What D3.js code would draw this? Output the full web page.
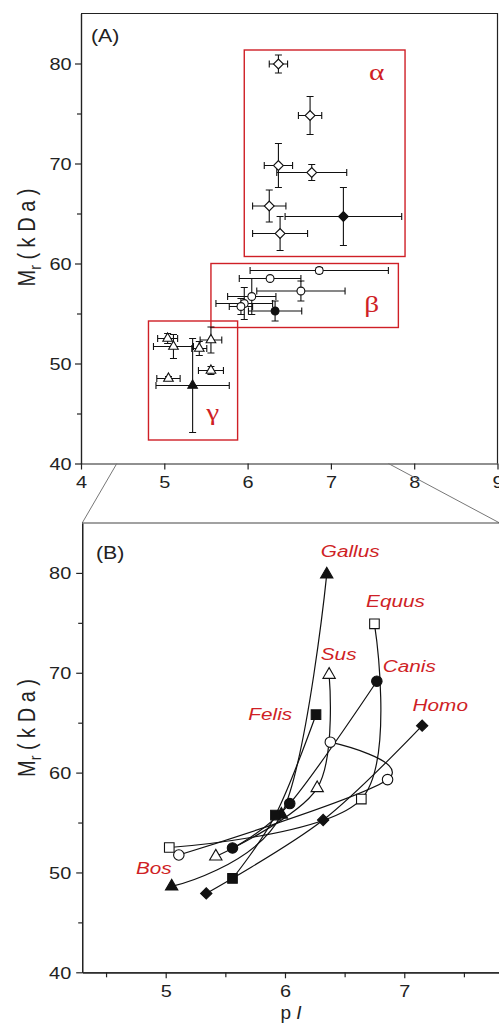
<!DOCTYPE html>
<html>
<head>
<meta charset="utf-8">
<script src="https://cdn.jsdelivr.net/npm/d3@7"></script>
<style>
  body { margin: 0; background: #fff; }
  svg { display: block; font-family: "Liberation Sans", Arial, sans-serif; }
</style>
</head>
<body>
<div id="svg-area"></div>
<script>
var svgWidth = 499;
var svgHeight = 1023;
var SX = 1.22;          // the text in the figure is stretched sideways
var red = "#cf1f26";

// ---- panel A : spots with error bars (pI, Mr in kDa) ----
var alphaPI    = [6.37, 6.75, 6.37, 6.77, 6.26, 7.15, 6.39];
var alphaMr    = [79.95, 74.8, 69.8, 69.1, 65.75, 64.7, 63.0];
var alphaPIerr = [0.11, 0.14, 0.17, 0.42, 0.20, 0.70, 0.33];
var alphaMrErr = [0.9, 1.9, 2.2, 0.8, 1.6, 2.9, 1.7];
var alphaMean  = [false, false, false, false, false, true, false];

var betaPI    = [6.86, 6.27, 6.64, 6.05, 5.96, 5.92, 6.33];
var betaMr    = [59.3, 58.5, 57.25, 56.7, 56.0, 55.7, 55.25];
var betaPIerr = [0.83, 0.37, 0.53, 0.29, 0.34, 0.14, 0.32];
var betaMrErr = [0.3, 0, 1.0, 1.8, 1.6, 0.8, 1.0];
var betaMean  = [false, false, false, false, false, false, true];

var gammaPI    = [5.04, 5.11, 5.42, 5.56, 5.56, 5.05, 5.34];
var gammaMr    = [52.5, 51.7, 51.5, 52.35, 49.3, 48.5, 47.8];
var gammaPIerr = [0.12, 0.24, 0.09, 0.13, 0.15, 0.14, 0.44];
var gammaMrErr = [0.5, 1.2, 0.7, 1.3, 0.4, 0.2, 4.7];
var gammaMean  = [false, false, false, false, false, false, true];

// boxes around the three groups: [pI from, pI to, Mr from, Mr to]
var groupNames = ["\u03b1", "\u03b2", "\u03b3"];
var groupBoxes = [[5.96, 7.89, 60.7, 81.35], [5.56, 7.81, 53.6, 60.0], [4.81, 5.88, 42.35, 54.25]];
var groupLabelAt = [[7.55, 78.4], [7.49, 55.2], [5.58, 44.4]];

// ---- panel B : one curve per genus, points ordered gamma, beta, alpha ----
var genera      = ["Gallus", "Equus", "Sus", "Canis", "Felis", "Homo", "Bos"];
var generaPI    = [[5.05, 5.97, 6.35], [5.03, 6.64, 6.75], [5.42, 6.27, 6.37], [5.56, 6.04, 6.77],
                   [5.56, 5.92, 6.26], [5.34, 6.32, 7.15], [5.11, 6.86, 6.38]];
var generaMr    = [[48.6, 55.8, 79.85], [52.5, 57.35, 74.9], [51.6, 58.45, 69.8], [52.45, 56.9, 69.15],
                   [49.4, 55.75, 65.8], [47.9, 55.25, 64.7], [51.75, 59.3, 63.05]];
var generaShape = ["triangle", "square", "triangle", "circle", "square", "diamond", "circle"];
var generaFill  = [true, false, false, true, true, true, false];
var labelPI     = [6.30, 6.68, 6.30, 6.82, 6.06, 7.07, 4.75];
var labelMr     = [81.55, 76.54, 71.25, 70.12, 65.24, 66.14, 49.83];
var labelAnchor = ["start", "start", "start", "start", "end", "start", "start"];

var zoomWindow = [4.43, 7.69];   // part of panel A shown in panel B

var svg = d3.select("#svg-area")
  .append("svg")
  .attr("width", svgWidth)
  .attr("height", svgHeight);

// scales
var xA = d3.scaleLinear().domain([4, 9]).range([81, 497.5]);
var yA = d3.scaleLinear().domain([40, 85]).range([463.5, 13.5]);
var xB = d3.scaleLinear().domain([4.3, 7.8]).range([82.2, 499.7]);
var yB = d3.scaleLinear().domain([40, 85]).range([972.3, 523]);

function stretched(g, x, y, str) {
  return g.append("text")
    .attr("transform", "translate(" + x + "," + y + ") scale(" + SX + ",1)")
    .text(str);
}

function symbolPath(shape, size) {
  var type = shape == "circle" ? d3.symbolCircle
    : shape == "triangle" ? d3.symbolTriangle : d3.symbolSquare;
  return d3.symbol().type(type).size(size)();
}

// axes, drawn the same way for both panels
function drawAxes(x, y, xMajor, xMinor, yGap, yLabelMid) {
  var y0 = y.range()[0], x0 = x.range()[0];

  svg.append("g").attr("transform", "translate(" + x0 + ",0)")
    .call(d3.axisLeft(y).tickValues([45, 55, 65, 75]).tickSize(4).tickFormat("").tickSizeOuter(0));
  var yMajor = svg.append("g").attr("transform", "translate(" + x0 + ",0)")
    .call(d3.axisLeft(y).tickValues([40, 50, 60, 70, 80]).tickSize(6).tickSizeOuter(0));
  yMajor.selectAll("text")
    .attr("x", -yGap / SX).attr("dy", "0.36em")
    .attr("transform", "scale(" + SX + ",1)");

  var xm = svg.append("g").attr("transform", "translate(0," + y0 + ")")
    .call(d3.axisBottom(x).tickValues(xMajor).tickSize(6).tickFormat(d3.format("d")).tickSizeOuter(0));
  xm.selectAll("text").attr("y", 12.7).attr("dy", "0.72em")
    .attr("transform", "scale(" + SX + ",1)");
  if (xMinor.length) {
    svg.append("g").attr("transform", "translate(0," + y0 + ")")
      .call(d3.axisBottom(x).tickValues(xMinor).tickSize(5).tickFormat("").tickSizeOuter(0));
  }

  svg.selectAll(".tick text").attr("font-size", 16.3).attr("fill", "#222");
  svg.selectAll(".domain, .tick line").attr("stroke", "#222").attr("stroke-width", 1.2);

  // y title: M_r ( k D a )
  var t = svg.append("text")
    .attr("transform", "translate(35," + yLabelMid + ") scale(" + SX + ",1) rotate(-90)")
    .attr("text-anchor", "middle")
    .attr("font-size", 20)
    .attr("fill", "#222");
  t.append("tspan").text("M");
  t.append("tspan").attr("dy", 5).attr("font-size", 14).text("r");
  t.append("tspan").attr("dy", -5).text(" ( k D a )");
}

// ---------------- panel A ----------------
drawAxes(xA, yA, [4, 5, 6, 7, 8, 9], [], 9.5, 237.5);

svg.append("path")
  .attr("fill", "none").attr("stroke", "#222").attr("stroke-width", 1.2)
  .attr("d", "M" + xA(4) + "," + yA(85) + "H" + xA(9) + "V" + yA(40));

stretched(svg, 91, 42, "(A)").attr("font-size", 17.5).attr("fill", "#222");

// group boxes
groupBoxes.forEach(function(b, i) {
  svg.append("rect")
    .attr("x", xA(b[0])).attr("y", yA(b[3]))
    .attr("width", xA(b[1]) - xA(b[0])).attr("height", yA(b[2]) - yA(b[3]))
    .attr("fill", "none").attr("stroke", red).attr("stroke-width", 1.4);
  stretched(svg, xA(groupLabelAt[i][0]), yA(groupLabelAt[i][1]), groupNames[i])
    .attr("text-anchor", "middle")
    .attr("font-family", "'Liberation Serif', 'DejaVu Serif', serif")
    .attr("font-size", 24).attr("fill", red);
});

function drawSpots(pI, mr, pIerr, mrErr, mean, shape, size) {
  var bars = svg.append("g").attr("stroke", "#111").attr("stroke-width", 1.1).attr("fill", "none");
  pI.forEach(function(v, i) {
    var cx = xA(v), cy = yA(mr[i]);
    var xl = xA(v - pIerr[i]), xr = xA(v + pIerr[i]);
    var yt = yA(mr[i] + mrErr[i]), yb = yA(mr[i] - mrErr[i]);
    var path = "M" + xl + "," + cy + "H" + xr +
      "M" + xl + "," + (cy - 3.5) + "V" + (cy + 3.5) +
      "M" + xr + "," + (cy - 3.5) + "V" + (cy + 3.5);
    if (mrErr[i] > 0) {
      path += "M" + cx + "," + yt + "V" + yb +
        "M" + (cx - 3.5) + "," + yt + "H" + (cx + 3.5) +
        "M" + (cx - 3.5) + "," + yb + "H" + (cx + 3.5);
    }
    bars.append("path").attr("d", path);
  });
  svg.append("g").selectAll("path")
    .data(pI)
    .enter().append("path")
    .attr("d", symbolPath(shape == "diamond" ? "square" : shape, size))
    .attr("transform", function(d, i) {
      return "translate(" + xA(d) + "," + yA(mr[i]) + ")" + (shape == "diamond" ? " rotate(45)" : "");
    })
    .attr("fill", function(d, i) { return mean[i] ? "#111" : "#fff"; })
    .attr("stroke", "#111").attr("stroke-width", 1.1);
}

drawSpots(alphaPI, alphaMr, alphaPIerr, alphaMrErr, alphaMean, "diamond", 48);
drawSpots(betaPI, betaMr, betaPIerr, betaMrErr, betaMean, "circle", 48);
drawSpots(gammaPI, gammaMr, gammaPIerr, gammaMrErr, gammaMean, "triangle", 40);

// lines leading from panel A to panel B
svg.append("g").attr("stroke", "#777").attr("stroke-width", 1)
  .selectAll("line")
  .data(zoomWindow)
  .enter().append("line")
  .attr("x1", function(d) { return xA(d); })
  .attr("y1", yA(40))
  .attr("x2", function(d, i) { return xB.range()[i]; })
  .attr("y2", yB(85));

// ---------------- panel B ----------------
drawAxes(xB, yB, [5, 6, 7], [4.5, 5.5, 6.5, 7.5], 11, 728);

svg.append("line")
  .attr("x1", xB(4.3)).attr("x2", xB(7.8))
  .attr("y1", yB(85)).attr("y2", yB(85))
  .attr("stroke", "#444").attr("stroke-width", 1.2);

stretched(svg, 96, 559, "(B)").attr("font-size", 17.5).attr("fill", "#222");

var curve = d3.line()
  .x(function(d) { return xB(d[0]); })
  .y(function(d) { return yB(d[1]); })
  .curve(d3.curveCatmullRom.alpha(0));

genera.forEach(function(name, i) {
  var pts = generaPI[i].map(function(v, j) { return [v, generaMr[i][j]]; });
  svg.append("path")
    .attr("fill", "none").attr("stroke", "#111").attr("stroke-width", 1.2)
    .attr("d", curve(pts));
});

genera.forEach(function(name, i) {
  var shape = generaShape[i];
  var size = shape == "triangle" ? 66 : shape == "diamond" ? 64 : shape == "circle" ? 86 : 92;
  svg.append("g").selectAll("path")
    .data(generaPI[i])
    .enter().append("path")
    .attr("d", symbolPath(shape == "diamond" ? "square" : shape, size))
    .attr("transform", function(d, j) {
      return "translate(" + xB(d) + "," + yB(generaMr[i][j]) + ")" + (shape == "diamond" ? " rotate(45)" : "");
    })
    .attr("fill", generaFill[i] ? "#111" : "#fff")
    .attr("stroke", "#111").attr("stroke-width", 1.1);
});

genera.forEach(function(name, i) {
  stretched(svg, xB(labelPI[i]), yB(labelMr[i]), name)
    .attr("text-anchor", labelAnchor[i])
    .attr("font-style", "italic")
    .attr("font-size", 17)
    .attr("fill", red);
});

// x title: pI
var xt = svg.append("text")
  .attr("transform", "translate(" + ((xB.range()[0] + xB.range()[1]) / 2) + ",1019)")
  .attr("text-anchor", "middle")
  .attr("font-size", 19)
  .attr("fill", "#222");
xt.append("tspan").text("p ");
xt.append("tspan").attr("font-style", "italic").text("I");
</script>
</body>
</html>
